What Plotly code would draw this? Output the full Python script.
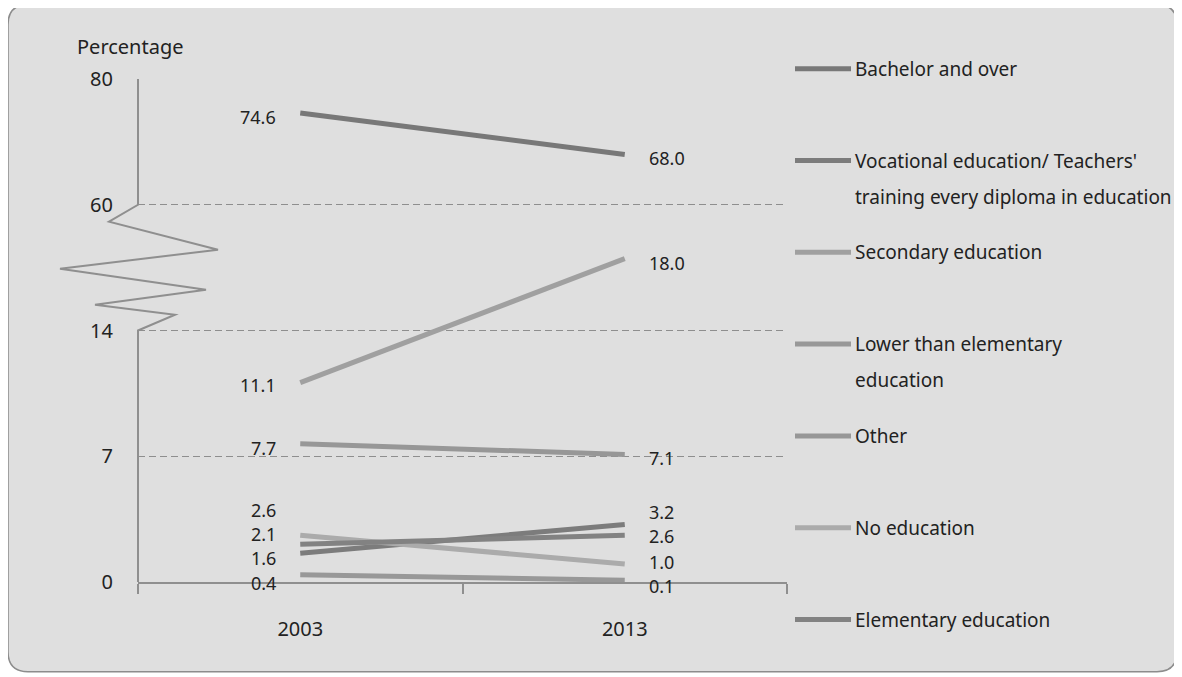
import plotly.graph_objects as go

# ---------------- data ----------------
categories = ["2003", "2013"]
series_names = [
    "Bachelor and over",
    "Vocational education/ Teachers'<br>training every diploma in education",
    "Secondary education",
    "Lower than elementary<br>education",
    "Other",
    "No education",
    "Elementary education",
]
bachelor = [74.6, 68.0]
vocational = [1.6, 3.2]
secondary = [11.1, 18.0]
lower_elementary = [0.4, 0.1]
other = [7.7, 7.1]
no_education = [2.6, 1.0]
elementary = [2.1, 2.6]
series_values = [bachelor, vocational, secondary, lower_elementary, other, no_education, elementary]

y_tick_values = [0, 7, 14, 60, 80]

# ---------------- styles ----------------
colors = ["#787878", "#7c7c7c", "#a0a0a0", "#989898", "#979797", "#ababab", "#828282"]
# label pixel offsets (2003, 2013) to avoid overlaps
label_shift_2003 = [-4, -5, -2, -8, -4, 25, 10]
label_shift_2013 = [-4, 13, -4, -6, -4, 2, -1]

FONT = "Noto Sans"
TXT = "#222222"
FS = 20
FS_LBL = 18
FS_LEG = 19

# broken axis: 0..21 linear, 60..80 compressed onto 21..28
def to_axis(v):
    return v if v < 40 else 21 + (v - 60) * 7.0 / 20.0

# pixel geometry (window coordinates); page body has an 8px margin
OFF = 8
W, H = 1182, 677
L, R, T, B = 138, 787, 79.3, 582.3

def px(x):
    return (x - L) / (R - L)

def py(y):
    return (B - y) / (B - T)

fig = go.Figure()

for name, vals, col in zip(series_names, series_values, colors):
    fig.add_trace(go.Scatter(
        x=categories, y=[to_axis(v) for v in vals], mode="lines",
        line=dict(color=col, width=5), name=name.replace("<br>", " "),
        showlegend=False, hoverinfo="skip"))

annotations = []
for i, vals in enumerate(series_values):
    annotations.append(dict(x=0, y=to_axis(vals[0]), xref="x", yref="y",
                            text=f"{vals[0]:.1f}", showarrow=False, xanchor="right",
                            yanchor="middle",
                            xshift=-22, yshift=label_shift_2003[i],
                            font=dict(family=FONT, size=FS_LBL, color=TXT)))
    annotations.append(dict(x=1, y=to_axis(vals[1]), xref="x", yref="y",
                            text=f"{vals[1]:.1f}", showarrow=False, xanchor="left",
                            yanchor="middle",
                            xshift=22, yshift=label_shift_2013[i],
                            font=dict(family=FONT, size=FS_LBL, color=TXT)))

# y axis title
annotations.append(dict(x=px(130), y=py(47), xref="paper", yref="paper", text="Percentage",
                        showarrow=False, xanchor="center", yanchor="middle",
                        font=dict(family=FONT, size=FS, color=TXT)))

shapes = []
# rounded background panel
x0, x1, y0, y1, r = 8, 1177, 5, 672, 20
pts = (f"M {px(x0+r)},{py(y0)} L {px(x1-r)},{py(y0)} Q {px(x1)},{py(y0)} {px(x1)},{py(y0+r)} "
       f"L {px(x1)},{py(y1-r)} Q {px(x1)},{py(y1)} {px(x1-r)},{py(y1)} "
       f"L {px(x0+r)},{py(y1)} Q {px(x0)},{py(y1)} {px(x0)},{py(y1-r)} "
       f"L {px(x0)},{py(y0+r)} Q {px(x0)},{py(y0)} {px(x0+r)},{py(y0)} Z")
shapes.append(dict(type="path", xref="paper", yref="paper", path=pts, layer="below",
                   fillcolor="#dfdfdf", line=dict(color="#8c8c8c", width=1.5)))

# broken y axis line with zigzag
zig = [(138, 582.3), (138, 330.8), (175, 315), (95, 305), (206, 290), (60, 269),
       (218, 250), (109, 222), (138, 205.1), (138, 79.3)]
path = "M " + " L ".join(f"{px(a)},{py(b)}" for a, b in zig)
shapes.append(dict(type="path", xref="paper", yref="paper", path=path,
                   line=dict(color="#8f8f8f", width=2)))

# legend (manual)
leg_top, leg_step = 69, 91.8
for i, (name, col) in enumerate(zip(series_names, colors)):
    yy = leg_top + i * leg_step
    shapes.append(dict(type="line", xref="paper", yref="paper",
                       x0=px(795), x1=px(851), y0=py(yy), y1=py(yy),
                       line=dict(color=col, width=5)))
    for k, part in enumerate(name.split("<br>")):
        annotations.append(dict(x=px(853), y=py(yy + 36 * k), xref="paper", yref="paper",
                                text=part, showarrow=False, xanchor="left", yanchor="middle",
                                font=dict(family=FONT, size=FS_LEG, color=TXT)))

FW, FH = W - OFF, H - OFF
fig.update_layout(
    width=FW, height=FH,
    margin=dict(l=L - OFF, r=FW - (R - OFF), t=T - OFF, b=FH - (B - OFF), autoexpand=False),
    paper_bgcolor="white", plot_bgcolor="rgba(0,0,0,0)",
    showlegend=False,
    shapes=shapes, annotations=annotations,
    xaxis=dict(type="category", range=[-0.5, 1.5], showline=True, linecolor="#8f8f8f",
               linewidth=2, ticks="outside", tickson="boundaries", ticklen=10,
               tickcolor="#8f8f8f", tickwidth=1.5, showgrid=False, zeroline=False,
               tickfont=dict(family=FONT, size=FS, color=TXT), ticklabelstandoff=28,
               automargin=False),
    yaxis=dict(range=[0, 28], tickvals=[to_axis(v) for v in y_tick_values],
               ticktext=[str(v) for v in y_tick_values], showline=False, zeroline=False,
               showgrid=True, gridcolor="#8e8e8e", gridwidth=1.3, griddash="7px,4px",
               ticks="", ticklabelstandoff=24,
               tickfont=dict(family=FONT, size=FS, color=TXT), automargin=False),
)

fig.write_html("out.html")
